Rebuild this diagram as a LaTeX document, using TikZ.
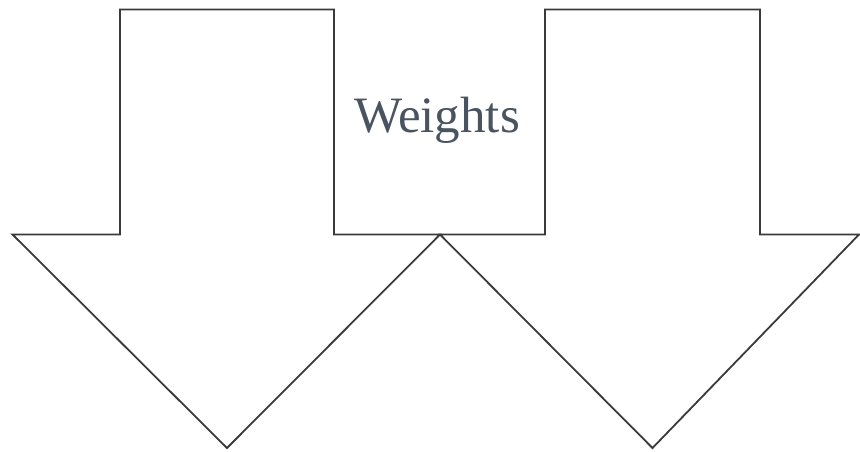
\documentclass[tikz,border=0pt]{standalone}
\usepackage{fontspec}
\setmainfont{Liberation Serif}
\definecolor{linec}{HTML}{3A3A3A}
\definecolor{textc}{HTML}{4A5461}
\begin{document}
\begin{tikzpicture}[x=1pt,y=-1pt,
  arrowshape/.style={draw=linec,line width=1.8pt,fill=white,line join=miter},
  label/.style={text=textc,font=\fontsize{51}{60}\selectfont,inner sep=0pt}]
\useasboundingbox (0,0) rectangle (860,451);
\draw[arrowshape] (120,9.5) -- (334,9.5) -- (334,234.5) -- (440,234.5) -- (227,448) -- (12.5,234.5) -- (120,234.5) -- cycle;
\draw[arrowshape] (545,9.5) -- (760,9.5) -- (760,234.5) -- (859,234.5) -- (652.5,448) -- (440,234.5) -- (545,234.5) -- cycle;
\node[label,anchor=base] (w) at (437,132) {Weights};
\end{tikzpicture}
\end{document}
